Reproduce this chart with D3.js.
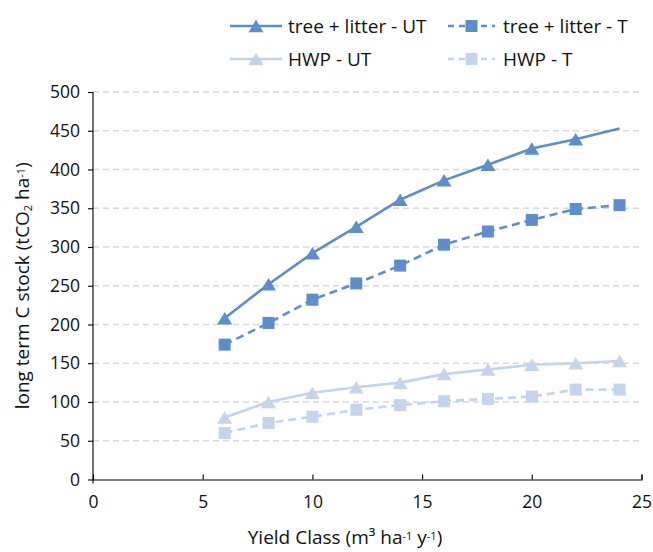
<!DOCTYPE html>
<html>
<head>
<meta charset="utf-8">
<script src="https://cdn.jsdelivr.net/npm/d3@7/dist/d3.min.js"></script>
<style>
  html, body { margin: 0; padding: 0; background: #fff; }
  svg { display: block; font-family: "Open Sans", "Noto Sans", sans-serif; }
</style>
</head>
<body>
<svg id="chart" width="653" height="552"></svg>
<script>
// Yield classes (m³ ha⁻¹ y⁻¹)
const yieldClass = [6, 8, 10, 12, 14, 16, 18, 20, 22, 24];

// Long-term carbon stock (tCO2 ha⁻¹)
const treeLitterUT = [208, 252, 292, 326, 361, 386, 406, 427, 439, 453];
const treeLitterT  = [174, 202, 232, 253, 276, 303, 320, 335, 349, 354];
const hwpUT        = [80, 100, 112, 119, 125, 136, 142, 148, 150, 153];
const hwpT         = [60, 73, 81, 90, 96, 101, 104, 107, 116, 116];

const seriesNames = ["tree + litter - UT", "tree + litter - T", "HWP - UT", "HWP - T"];

const xTicks = [0, 5, 10, 15, 20, 25];
const yTicks = [0, 50, 100, 150, 200, 250, 300, 350, 400, 450, 500];

const dark = "#5B8ECB";
const light = "#C3D4ED";

const series = [
  { name: seriesNames[0], values: treeLitterUT, color: dark,  dash: null,  marker: "triangle", skipLastMarker: true },
  { name: seriesNames[1], values: treeLitterT,  color: dark,  dash: "8,5", marker: "square" },
  { name: seriesNames[2], values: hwpUT,        color: light, dash: null,  marker: "triangle" },
  { name: seriesNames[3], values: hwpT,         color: light, dash: "8,5", marker: "square" }
];

const svg = d3.select("#chart");
const plotLeft = 93, plotRight = 641.5, plotTop = 92, plotBottom = 479.5;

const x = d3.scaleLinear().domain([0, 25]).range([plotLeft, plotRight]);
const y = d3.scaleLinear().domain([0, 500]).range([plotBottom, plotTop]);

// Horizontal dashed gridlines
svg.append("g")
  .selectAll("line")
  .data(yTicks.filter(v => v > 0))
  .join("line")
  .attr("x1", plotLeft).attr("x2", plotRight)
  .attr("y1", d => y(d)).attr("y2", d => y(d))
  .attr("stroke", "#D9D9D9")
  .attr("stroke-width", 1.3)
  .attr("stroke-dasharray", "6,4");

// Axes
const yAxis = d3.axisLeft(y).tickValues(yTicks).tickSize(5).tickPadding(6).tickFormat(d3.format("d"));
const xAxis = d3.axisBottom(x).tickValues(xTicks).tickSize(-5).tickPadding(12).tickFormat(d3.format("d"));

const gy = svg.append("g").attr("transform", `translate(${plotLeft},0)`).call(yAxis);
const gx = svg.append("g").attr("transform", `translate(0,${plotBottom})`).call(xAxis);

[gx, gy].forEach(g => {
  g.select(".domain").attr("stroke", "#000").attr("stroke-width", 1.1);
  g.selectAll(".tick line").attr("stroke", "#000").attr("stroke-width", 1.1);
  g.selectAll(".tick text").attr("fill", "#111").style("font-size", "17.5px")
    .style("font-family", "'Open Sans', 'Noto Sans', sans-serif");
});
gy.select(".domain").attr("d", `M0,${plotTop}V${plotBottom + 4}`);
gy.selectAll(".tick text").attr("x", -13);
gx.selectAll(".tick text").attr("y", 16).attr("dy", "0.71em");

// Marker shapes
const triPath = (s) => `M0,${-s * 0.5}L${s * 0.6},${s * 0.5}L${-s * 0.6},${s * 0.5}Z`;
function drawMarker(g, type, cx, cy, color) {
  if (type === "triangle") {
    g.append("path").attr("d", triPath(12.5))
      .attr("transform", `translate(${cx},${cy})`)
      .attr("fill", color);
  } else {
    g.append("rect").attr("x", cx - 6).attr("y", cy - 6)
      .attr("width", 12).attr("height", 12)
      .attr("fill", color);
  }
}

const line = d3.line().x(d => x(d[0])).y(d => y(d[1]));

// Draw lighter series first, then the darker ones on top
[2, 3, 0, 1].forEach(i => {
  const s = series[i];
  const pts = yieldClass.map((c, k) => [c, s.values[k]]);
  const g = svg.append("g");
  g.append("path").datum(pts)
    .attr("d", line)
    .attr("fill", "none")
    .attr("stroke", s.color)
    .attr("stroke-width", 2.6)
    .attr("stroke-dasharray", s.dash);
  pts.forEach((p, k) => {
    if (s.skipLastMarker && k === pts.length - 1) return;
    drawMarker(g, s.marker, x(p[0]), y(p[1]), s.color);
  });
});

// Legend
const legendPos = [[230, 26], [448, 26], [230, 59], [448, 59]];
series.forEach((s, i) => {
  const [lx, ly] = legendPos[i];
  const g = svg.append("g").attr("transform", `translate(${lx},${ly})`);
  const len = i % 2 === 0 ? 52 : 47;
  g.append("line").attr("x1", 0).attr("x2", len).attr("y1", 0).attr("y2", 0)
    .attr("stroke", s.color).attr("stroke-width", 2.6)
    .attr("stroke-dasharray", s.dash ? "6,5" : null);
  drawMarker(g, s.marker, len / 2, 0, s.color);
  g.append("text").attr("x", i % 2 === 0 ? 58 : 55).attr("y", 0).attr("dy", "0.35em")
    .attr("fill", "#111").style("font-size", "19px").text(s.name);
});

// Axis titles
const yTitle = svg.append("text")
  .attr("transform", `translate(29,${(plotTop + plotBottom) / 2}) rotate(-90)`)
  .attr("text-anchor", "middle")
  .attr("fill", "#111").style("font-size", "19px");
yTitle.append("tspan").text("long term C stock (tCO");
yTitle.append("tspan").attr("baseline-shift", "-30%").style("font-size", "11px").text("2");
yTitle.append("tspan").text(" ha");
yTitle.append("tspan").attr("baseline-shift", "40%").style("font-size", "11px").text("-1");
yTitle.append("tspan").text(")");

const xTitle = svg.append("text")
  .attr("x", 345).attr("y", 544)
  .attr("text-anchor", "middle")
  .attr("fill", "#111").style("font-size", "19px");
xTitle.append("tspan").text("Yield Class (m³ ha");
xTitle.append("tspan").attr("baseline-shift", "40%").style("font-size", "11px").text("-1");
xTitle.append("tspan").text(" y");
xTitle.append("tspan").attr("baseline-shift", "40%").style("font-size", "11px").text("-1");
xTitle.append("tspan").text(")");
</script>
</body>
</html>
